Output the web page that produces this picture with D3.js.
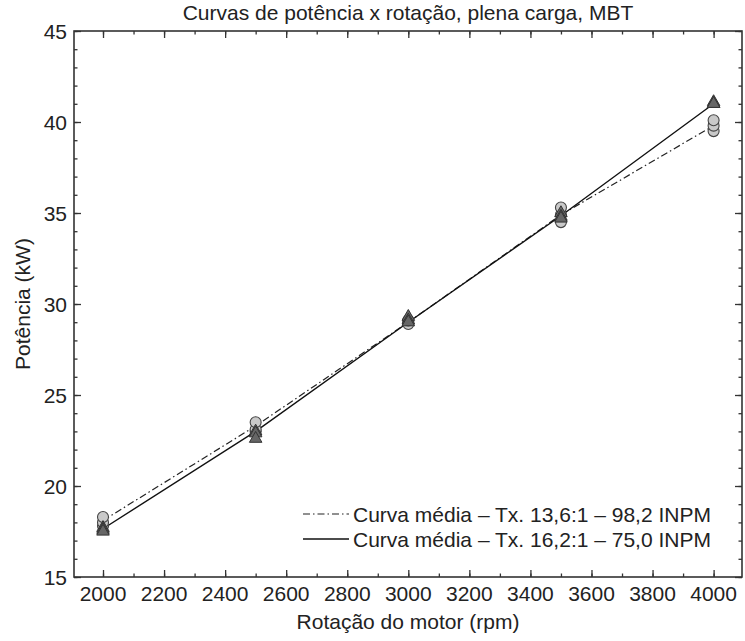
<!DOCTYPE html>
<html><head><meta charset="utf-8">
<script src="https://cdn.jsdelivr.net/npm/d3@7"></script>
<style>body{margin:0;background:#fff}svg{display:block}text{font-family:"Liberation Sans",Arial,sans-serif;fill:#222}</style>
</head><body><div id="chart"></div>
<script>
const rpm = [2000, 2500, 3000, 3500, 4000];
// mean curves
const meanA = [18.1, 23.3, 29.0, 34.9, 39.8];   // Tx. 13,6:1 – 98,2 INPM (dash-dot)
const meanB = [17.65, 23.0, 29.0, 34.85, 41.0]; // Tx. 16,2:1 – 75,0 INPM (solid)
// repetitions (circles = 13,6:1, triangles = 16,2:1)
const repA1 = [18.3, 23.5, 29.1, 35.3, 40.1];
const repA2 = [18.0, 23.1, 28.9, 34.9, 39.8];
const repA3 = [17.8, 23.0, 29.0, 34.5, 39.5];
const repB1 = [17.7, 23.0, 29.3, 35.0, 41.1];
const repB2 = [17.6, 22.9, 29.1, 34.8, 41.0];
const repB3 = [17.5, 22.6, 29.0, 34.7, 41.0];
const xTicks = [2000, 2200, 2400, 2600, 2800, 3000, 3200, 3400, 3600, 3800, 4000];
const yTicks = [15, 20, 25, 30, 35, 40, 45];
const titleText = "Curvas de potência x rotação, plena carga, MBT";
const xLabel = "Rotação do motor (rpm)";
const yLabel = "Potência (kW)";
const legendLabels = ["Curva média – Tx. 13,6:1 – 98,2 INPM", "Curva média – Tx. 16,2:1 – 75,0 INPM"];

const W = 745, H = 641;
const L = 74, R = 742, T = 31, B = 577;
const FS = 21;
const svg = d3.select("#chart").append("svg").attr("width", W).attr("height", H);
const x = d3.scaleLinear().domain([1905, 4093]).range([L, R]);
const y = d3.scaleLinear().domain([15, 45]).range([B, T]);

const axCol = "#333";
const xMinor = d3.range(2000, 4001, 100);
const yMinor = d3.range(15, 45.01, 1);
function styleAxis(g){ g.select(".domain").remove(); g.selectAll("line").attr("stroke", axCol).attr("stroke-width", 1.3); }
svg.append("g").attr("transform", `translate(0,${B})`).call(d3.axisTop(x).tickValues(xMinor).tickSize(3.5).tickFormat("")).call(styleAxis);
svg.append("g").attr("transform", `translate(0,${T})`).call(d3.axisBottom(x).tickValues(xMinor).tickSize(3.5).tickFormat("")).call(styleAxis);
svg.append("g").attr("transform", `translate(${L},0)`).call(d3.axisRight(y).tickValues(yMinor).tickSize(3.5).tickFormat("")).call(styleAxis);
svg.append("g").attr("transform", `translate(${R},0)`).call(d3.axisLeft(y).tickValues(yMinor).tickSize(3.5).tickFormat("")).call(styleAxis);
svg.append("g").attr("transform", `translate(0,${B})`).call(d3.axisTop(x).tickValues(xTicks).tickSize(7).tickFormat("")).call(styleAxis);
svg.append("g").attr("transform", `translate(0,${T})`).call(d3.axisBottom(x).tickValues(xTicks).tickSize(7).tickFormat("")).call(styleAxis);
svg.append("g").attr("transform", `translate(${L},0)`).call(d3.axisRight(y).tickValues(yTicks).tickSize(7).tickFormat("")).call(styleAxis);
svg.append("g").attr("transform", `translate(${R},0)`).call(d3.axisLeft(y).tickValues(yTicks).tickSize(7).tickFormat("")).call(styleAxis);
svg.append("rect").attr("x", L).attr("y", T).attr("width", R - L).attr("height", B - T)
  .attr("fill", "none").attr("stroke", axCol).attr("stroke-width", 1.6);
svg.append("g").selectAll("text").data(xTicks).join("text")
  .attr("x", d => x(d)).attr("y", B + 24).attr("text-anchor", "middle")
  .attr("font-size", FS).text(d => d);
svg.append("g").selectAll("text").data(yTicks).join("text")
  .attr("x", L - 7).attr("y", d => y(d) + 7.5).attr("text-anchor", "end")
  .attr("font-size", FS).text(d => d);
svg.append("text").attr("x", (L + R) / 2).attr("y", 20).attr("text-anchor", "middle").attr("font-size", FS).text(titleText);
svg.append("text").attr("x", (L + R) / 2).attr("y", 629).attr("text-anchor", "middle").attr("font-size", FS).text(xLabel);
svg.append("text").attr("transform", `translate(30,${(T + B) / 2}) rotate(-90)`).attr("text-anchor", "middle").attr("font-size", FS).text(yLabel);

const line = d3.line().x(d => x(d[0])).y(d => y(d[1]));
const dashA = "7,3,1.5,3";
svg.append("path").datum(rpm.map((r, i) => [r, meanA[i]])).attr("d", line)
  .attr("fill", "none").attr("stroke", "#222").attr("stroke-width", 1.2).attr("stroke-dasharray", dashA);
svg.append("path").datum(rpm.map((r, i) => [r, meanB[i]])).attr("d", line)
  .attr("fill", "none").attr("stroke", "#111").attr("stroke-width", 1.4);

const circ = [repA3, repA2, repA1].flatMap(a => rpm.map((r, i) => [r, a[i]]));
svg.append("g").selectAll("circle").data(circ).join("circle")
  .attr("cx", d => x(d[0])).attr("cy", d => y(d[1])).attr("r", 5.5)
  .attr("fill", "#c9c9c9").attr("stroke", "#444").attr("stroke-width", 1.1);
const tri = [repB1, repB2, repB3].flatMap(a => rpm.map((r, i) => [r, a[i]]));
const triSym = d3.symbol().type(d3.symbolTriangle).size(68);
svg.append("g").selectAll("path").data(tri).join("path")
  .attr("transform", d => `translate(${x(d[0])},${y(d[1])})`).attr("d", triSym)
  .attr("fill", "#666").attr("stroke", "#333").attr("stroke-width", 1);

const lg = svg.append("g");
const lx1 = 303, lx2 = 349, ly = [514, 539];
lg.append("line").attr("x1", lx1).attr("x2", lx2).attr("y1", ly[0]).attr("y2", ly[0])
  .attr("stroke", "#222").attr("stroke-width", 1.2).attr("stroke-dasharray", dashA);
lg.append("line").attr("x1", lx1).attr("x2", lx2).attr("y1", ly[1]).attr("y2", ly[1])
  .attr("stroke", "#111").attr("stroke-width", 1.4);
lg.selectAll("text").data(legendLabels).join("text")
  .attr("x", 353).attr("y", (d, i) => ly[i] + 7.5).attr("font-size", FS).text(d => d);
</script></body></html>
